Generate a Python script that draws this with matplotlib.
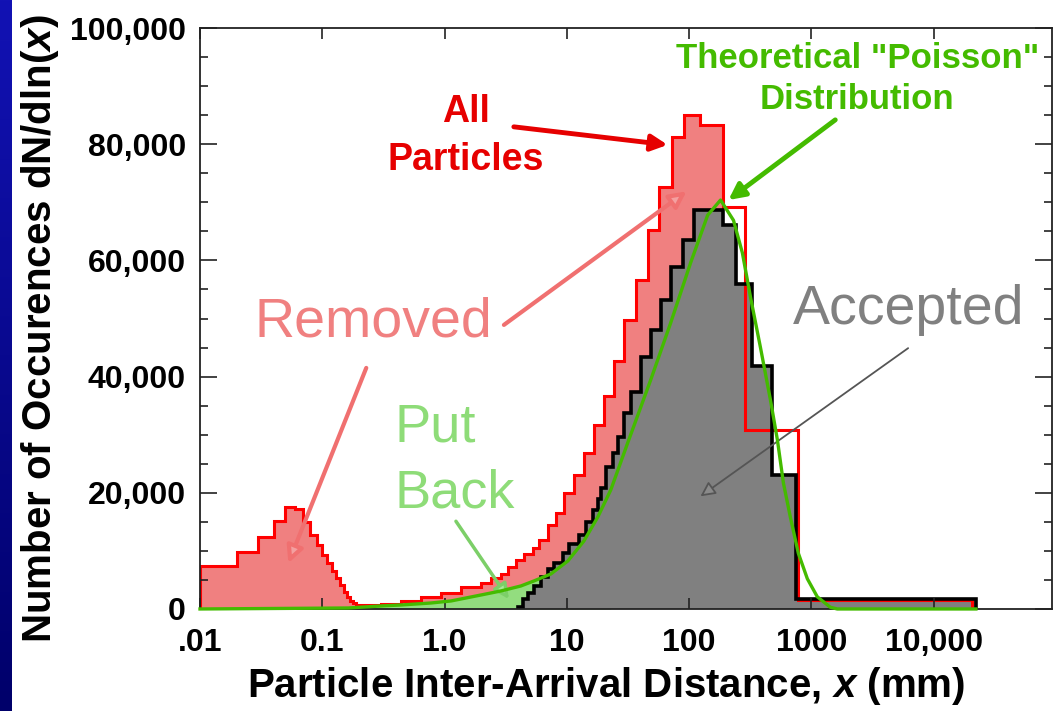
import numpy as np
import matplotlib
matplotlib.use("Agg")
import matplotlib.pyplot as plt
from matplotlib.ticker import FixedLocator, MultipleLocator, NullLocator
from matplotlib.colors import LinearSegmentedColormap

plt.rcParams['font.family'] = ['Liberation Sans', 'DejaVu Sans']
plt.rcParams['mathtext.fontset'] = 'custom'
plt.rcParams['mathtext.it'] = 'Liberation Sans:italic:bold'
plt.rcParams['mathtext.rm'] = 'Liberation Sans:bold'

# "All particles" histogram (bin edges in mm, dN/dln(x))
red_edges = [0.01, 0.02, 0.03, 0.04, 0.05, 0.06, 0.07, 0.08, 0.09, 0.10,
             0.11, 0.12, 0.13, 0.14, 0.15, 0.16, 0.17, 0.18, 0.19, 0.20,
             0.30, 0.44, 0.64, 0.94, 1.36, 1.99, 2.4, 2.9, 3.3, 3.84,
             4.46, 5.28, 5.91, 7.0, 8.13, 9.45, 11.4, 13.8, 16.6, 20.2,
             24.2, 29.2, 36.6, 45.8, 56.4, 72.0, 90.2, 124, 188, 289,
             783, 20600]
red_counts = [7400, 9800, 12400, 15200, 17600, 17200, 15000, 12800, 11000,
              9300, 8000, 6600, 5300, 4200, 3000, 2100, 1400, 1000, 700,
              600, 800, 1300, 2000, 2800, 3700, 4500, 5300, 6000, 7200,
              8400, 9500, 10500, 11900, 14500, 16500, 20000, 23100, 26900,
              31700, 36700, 42700, 49700, 56600, 65200, 72600, 81200, 85000,
              83300, 69200, 30800, 1500]

# "Accepted" histogram
black_edges = [3.98, 4.37, 4.81, 5.38, 6.13, 7.0, 7.83, 9.28, 10.4, 12.5,
               14.3, 16.3, 17.9, 19.0, 20.8, 23.7, 26.1, 29.2, 33.3, 40.2,
               48.5, 58.5, 70.6, 88.5, 109, 188, 240, 330, 480, 755, 22200]
black_counts = [300, 1700, 2800, 4000, 5500, 6900, 8000, 9700, 11200, 12800,
                14900, 17000, 19000, 20800, 24400, 26900, 29600, 33700,
                37300, 43400, 48000, 53200, 58900, 63500, 68700, 66100,
                55900, 41800, 23100, 1700]

# theoretical "Poisson" curve
poisson_x = [0.01, 0.163, 0.303, 0.442, 0.776, 1.13, 1.99, 2.89, 4.21, 5.38,
             7.40, 10.2, 13.8, 17.9, 22.9, 31.5, 48.5, 70.6, 103, 142, 181,
             231, 273, 318, 383, 463, 528, 591, 674, 783, 928, 1119, 1429,
             1630, 22200]
poisson_y = [0, 170, 520, 690, 1030, 1380, 2410, 3100, 3960, 4820, 6020,
             8260, 11700, 15800, 20500, 28600, 39400, 49200, 59600, 67800,
             70400, 66900, 61300, 53700, 45100, 36000, 29100, 21700, 15800,
             9600, 5200, 2100, 300, 0, 0]

xticks = [0.01, 0.1, 1, 10, 100, 1000, 10000]
xtick_labels = ['.01', '0.1', '1.0', '10', '100', '1000', '10,000']
yticks = [0, 20000, 40000, 60000, 80000, 100000]
ytick_labels = ['0', '20,000', '40,000', '60,000', '80,000', '100,000']

fig = plt.figure(figsize=(10.56, 7.11), dpi=100)

# slide background strip on the left
bax = fig.add_axes([0, 0, 12 / 1056, 1])
grad = np.linspace(0, 1, 256).reshape(-1, 1)
bax.imshow(grad, aspect='auto',
           cmap=LinearSegmentedColormap.from_list('slide', ['#1212b4', '#00006a']))
bax.axis('off')

ax = fig.add_axes([0.1894, 0.1435, 0.8068, 0.817])
ax.set_xscale('log')

n_removed = len(red_counts) - 3
ax.stairs(red_counts[:n_removed], red_edges[:n_removed + 1], fill=True,
          color='#f08080', lw=0)

px = np.array(poisson_x)
py = np.array(poisson_y)
mask = px <= 23
ax.fill_between(px[mask], py[mask], color='#93dd7f', lw=0)

ax.stairs(black_counts, black_edges, fill=True, color='#808080', lw=0)
ax.stairs(red_counts, red_edges, color='#ff0000', lw=2.2)
ax.stairs(black_counts, black_edges, color='black', lw=2.6)
ax.plot(poisson_x, poisson_y, color='#44bb00', lw=2.4, clip_on=False, zorder=5)

ax.set_xlim(0.01, 9.3e4)
ax.set_ylim(0, 100000)
ax.xaxis.set_major_locator(FixedLocator(xticks))
ax.xaxis.set_minor_locator(NullLocator())
ax.set_xticklabels(xtick_labels)
ax.yaxis.set_major_locator(FixedLocator(yticks))
ax.yaxis.set_minor_locator(MultipleLocator(5000))
ax.set_yticklabels(ytick_labels)

ax.tick_params(which='both', direction='in', top=True, right=True,
               width=1.2, colors='#222222', labelcolor='black')
ax.tick_params(axis='x', which='major', length=8, pad=14, labelsize=23)
ax.tick_params(axis='y', which='major', length=12, pad=10, labelsize=23)
ax.tick_params(axis='y', which='minor', length=6)
for lab in ax.get_xticklabels() + ax.get_yticklabels():
    lab.set_fontweight('bold')
for sp in ax.spines.values():
    sp.set_linewidth(1.3)
    sp.set_color('#222222')

ax.set_xlabel('Particle Inter-Arrival Distance, $x$ (mm)', fontsize=29,
              fontweight='bold')
ax.set_ylabel('Number of Occurences dN/dln($x$)', fontsize=29,
              fontweight='bold')
ax.xaxis.set_label_coords(0.4765, -0.097)
ax.yaxis.set_label_coords(-0.163, 0.482)

# annotations
ax.text(1.50, 81400, 'All\nParticles', color='#e60000', fontsize=27,
        fontweight='bold', ha='center', va='center', linespacing=1.45)
ax.annotate('', xy=(66.8, 79900), xytext=(3.69, 83000),
            arrowprops=dict(arrowstyle='-|>', color='#e60000', lw=3.5,
                            mutation_scale=24, shrinkA=0, shrinkB=0))

ax.text(2374, 91200, 'Theoretical "Poisson"\nDistribution', color='#44bb00',
        fontsize=25, fontweight='bold', ha='center', va='center',
        linespacing=1.3)
ax.annotate('', xy=(210, 70400), xytext=(1570, 84200),
            arrowprops=dict(arrowstyle='-|>', color='#44bb00', lw=3.5,
                            mutation_scale=24, shrinkA=0, shrinkB=0))

ax.text(0.261, 49400, 'Removed', color='#f08080', fontsize=40,
        ha='center', va='center')
ax.annotate('', xy=(95.4, 71900), xytext=(3.06, 48900),
            arrowprops=dict(arrowstyle='-|>', ec='#f07070', fc='#f4a0a0',
                            lw=3, mutation_scale=25, shrinkA=0, shrinkB=0))
ax.annotate('', xy=(0.0528, 7900), xytext=(0.229, 41500),
            arrowprops=dict(arrowstyle='-|>', ec='#f07070', fc='#f4a0a0',
                            lw=3, mutation_scale=25, shrinkA=0, shrinkB=0))

ax.text(0.387, 25600, 'Put\nBack', color='#8edc78', fontsize=39,
        ha='left', va='center', linespacing=1.4)
ax.annotate('', xy=(3.36, 1700), xytext=(1.24, 15100),
            arrowprops=dict(arrowstyle='-|>', ec='#7ccf68', fc='#a8e89a',
                            lw=2.5, mutation_scale=22, shrinkA=0, shrinkB=0))

ax.text(6194, 51500, 'Accepted', color='#808080', fontsize=40,
        ha='center', va='center')
ax.annotate('', xy=(124, 19400), xytext=(6194, 44900),
            arrowprops=dict(arrowstyle='-|>', ec='#555555', fc='#8a8a8a',
                            lw=1.3, mutation_scale=22, shrinkA=0, shrinkB=0))

fig.savefig('out.png', dpi=100)
